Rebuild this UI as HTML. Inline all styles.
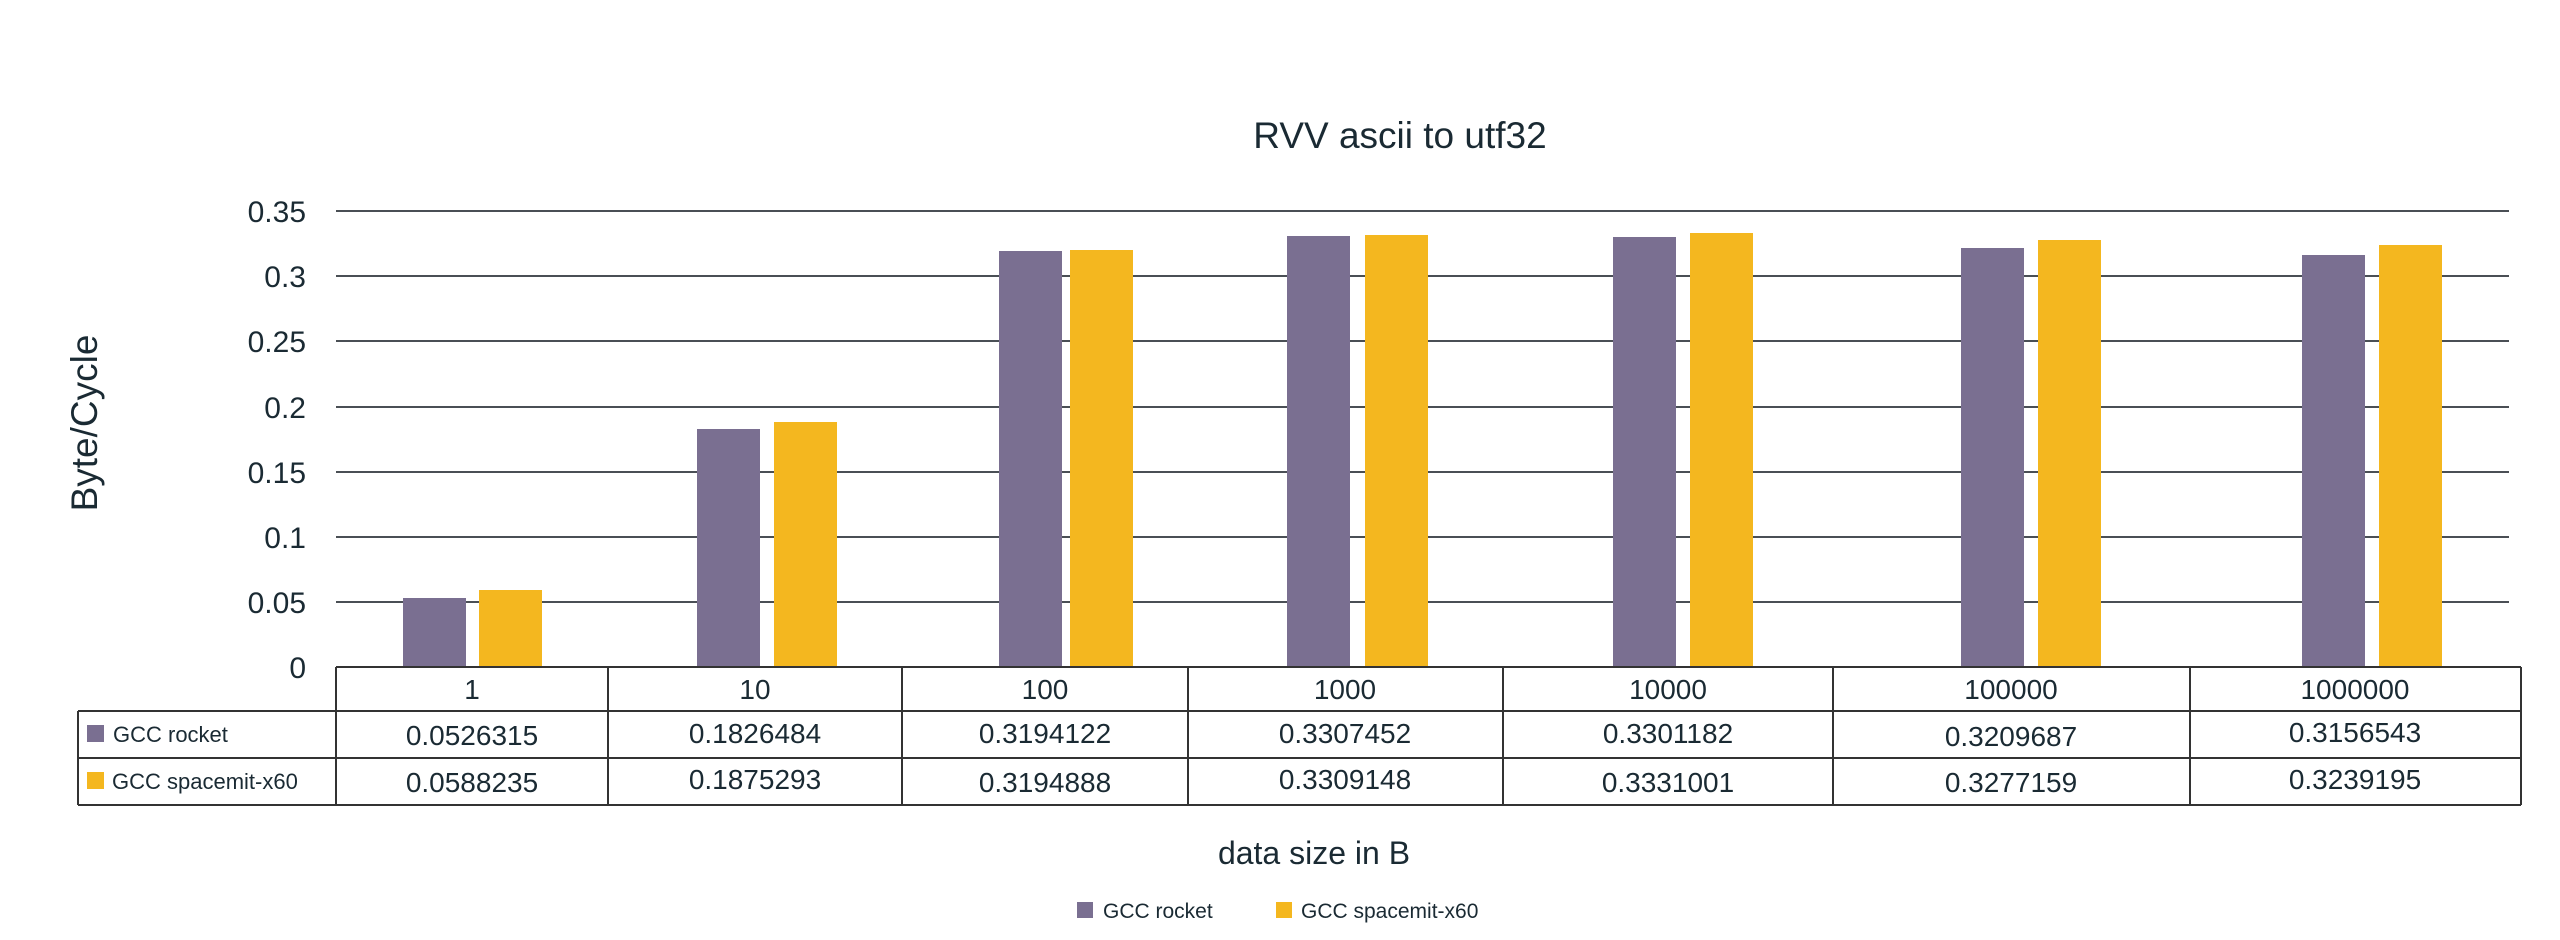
<!DOCTYPE html>
<html><head><meta charset="utf-8"><style>
html,body{margin:0;padding:0;background:#fff;}
svg{display:block;}
text{font-family:"Liberation Sans",sans-serif;fill:#1a2a33;}
</style></head><body>
<svg width="2560" height="940" viewBox="0 0 2560 940" xmlns="http://www.w3.org/2000/svg">
<rect width="2560" height="940" fill="#fff"/>
<text x="1400" y="148" font-size="37" text-anchor="middle">RVV ascii to utf32</text>
<g stroke="#4a4f55" stroke-width="2">
<line x1="336" x2="2509" y1="211" y2="211"/>
<line x1="336" x2="2509" y1="276" y2="276"/>
<line x1="336" x2="2509" y1="341" y2="341"/>
<line x1="336" x2="2509" y1="407" y2="407"/>
<line x1="336" x2="2509" y1="472" y2="472"/>
<line x1="336" x2="2509" y1="537" y2="537"/>
<line x1="336" x2="2509" y1="602" y2="602"/>
</g>
<g font-size="30" text-anchor="end">
<text x="306" y="222">0.35</text>
<text x="306" y="287">0.3</text>
<text x="306" y="352">0.25</text>
<text x="306" y="418">0.2</text>
<text x="306" y="483">0.15</text>
<text x="306" y="548">0.1</text>
<text x="306" y="613">0.05</text>
<text x="306" y="678">0</text>
</g>
<text transform="translate(97,423) rotate(-90)" font-size="37" text-anchor="middle">Byte/Cycle</text>
<g>
<rect x="403" y="598" width="63" height="69" fill="#7a6f91"/><rect x="479" y="590" width="63" height="77" fill="#f4b71f"/>
<rect x="697" y="429" width="63" height="238" fill="#7a6f91"/><rect x="774" y="422" width="63" height="245" fill="#f4b71f"/>
<rect x="999" y="251" width="63" height="416" fill="#7a6f91"/><rect x="1070" y="250" width="63" height="417" fill="#f4b71f"/>
<rect x="1287" y="236" width="63" height="431" fill="#7a6f91"/><rect x="1365" y="235" width="63" height="432" fill="#f4b71f"/>
<rect x="1613" y="237" width="63" height="430" fill="#7a6f91"/><rect x="1690" y="233" width="63" height="434" fill="#f4b71f"/>
<rect x="1961" y="248" width="63" height="419" fill="#7a6f91"/><rect x="2038" y="240" width="63" height="427" fill="#f4b71f"/>
<rect x="2302" y="255" width="63" height="412" fill="#7a6f91"/><rect x="2379" y="245" width="63" height="422" fill="#f4b71f"/>
</g>
<g stroke="#333" stroke-width="2" fill="none">
<line x1="336" x2="2521" y1="667" y2="667"/>
<line x1="78" x2="2521" y1="711" y2="711"/>
<line x1="78" x2="2521" y1="758" y2="758"/>
<line x1="78" x2="2521" y1="805" y2="805"/>
<line x1="78" x2="78" y1="711" y2="805"/>
<line x1="336" x2="336" y1="667" y2="805"/>
<line x1="608" x2="608" y1="667" y2="805"/>
<line x1="902" x2="902" y1="667" y2="805"/>
<line x1="1188" x2="1188" y1="667" y2="805"/>
<line x1="1503" x2="1503" y1="667" y2="805"/>
<line x1="1833" x2="1833" y1="667" y2="805"/>
<line x1="2190" x2="2190" y1="667" y2="805"/>
<line x1="2521" x2="2521" y1="667" y2="805"/>
</g>
<g font-size="28" text-anchor="middle">
<text x="472" y="699">1</text><text x="755" y="699">10</text><text x="1045" y="699">100</text><text x="1345" y="699">1000</text><text x="1668" y="699">10000</text><text x="2011" y="699">100000</text><text x="2355" y="699">1000000</text>
<text x="472" y="745">0.0526315</text><text x="755" y="743">0.1826484</text><text x="1045" y="743">0.3194122</text><text x="1345" y="743">0.3307452</text><text x="1668" y="743">0.3301182</text><text x="2011" y="746">0.3209687</text><text x="2355" y="742">0.3156543</text>
<text x="472" y="792">0.0588235</text><text x="755" y="789">0.1875293</text><text x="1045" y="792">0.3194888</text><text x="1345" y="789">0.3309148</text><text x="1668" y="792">0.3331001</text><text x="2011" y="792">0.3277159</text><text x="2355" y="789">0.3239195</text>
</g>
<rect x="87" y="725" width="17" height="17" fill="#7a6f91"/>
<text x="113" y="742" font-size="22">GCC rocket</text>
<rect x="87" y="772" width="17" height="17" fill="#f4b71f"/>
<text x="112" y="789" font-size="22">GCC spacemit-x60</text>
<text x="1314" y="864" font-size="32" text-anchor="middle">data size in B</text>
<rect x="1077" y="902" width="16" height="16" fill="#7a6f91"/>
<text x="1103" y="918" font-size="21">GCC rocket</text>
<rect x="1276" y="902" width="16" height="16" fill="#f4b71f"/>
<text x="1301" y="918" font-size="21">GCC spacemit-x60</text>
</svg>
</body></html>
